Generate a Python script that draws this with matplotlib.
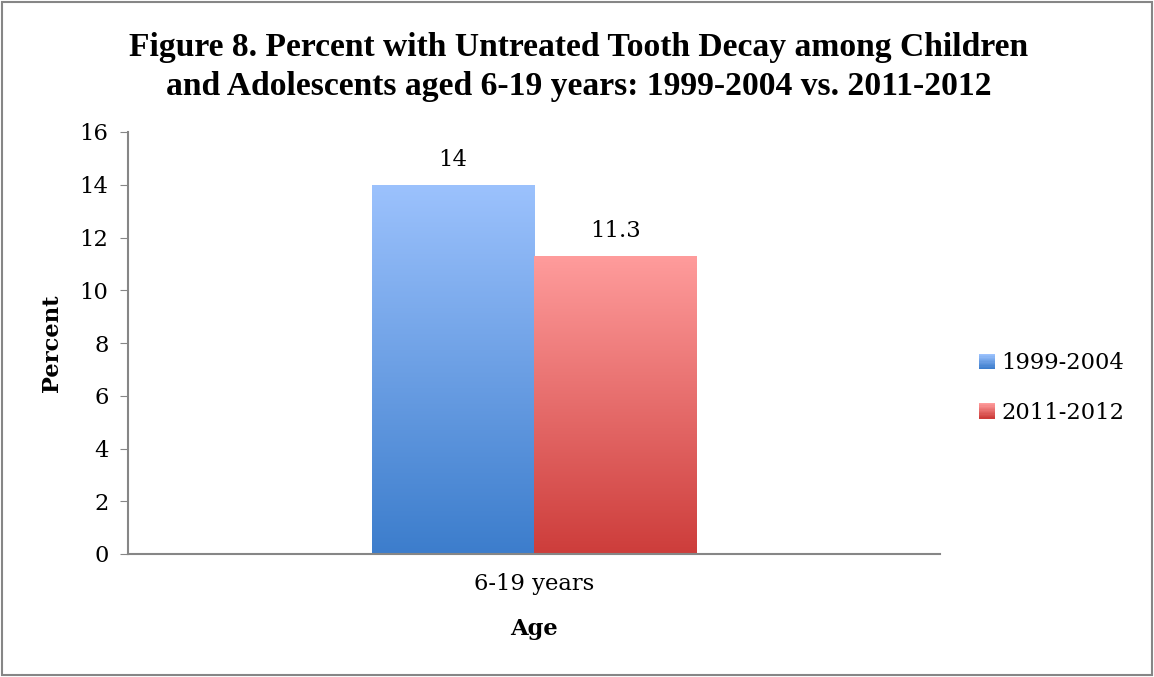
import numpy as np
import matplotlib
matplotlib.use("Agg")
import matplotlib.pyplot as plt
from matplotlib.colors import LinearSegmentedColormap
from matplotlib.patches import Rectangle
from matplotlib.legend_handler import HandlerBase

# data
categories = ["6-19 years"]
series = ["1999-2004", "2011-2012"]
values_1999_2004 = [14]
values_2011_2012 = [11.3]
labels_1999_2004 = ["14"]
labels_2011_2012 = ["11.3"]

# gradient top/bottom colours for each series
grad_colors = {
    "1999-2004": ("#9cc2fd", "#3c7dcc"),
    "2011-2012": ("#ff9c9c", "#cd3d3b"),
}

plt.rcParams['font.family'] = ['DejaVu Serif']
FS = 16.3

fig = plt.figure(figsize=(11.54, 6.77), dpi=100)
ax = fig.add_axes([128 / 1154, 1 - 554 / 677, (940 - 128) / 1154, (554 - 132) / 677])

x = np.arange(len(categories))
w = 0.2


def gradient_bar(ax, xpos, vals, name):
    bars = ax.bar(xpos, vals, width=w, facecolor="none", edgecolor="none", zorder=2)
    top, bot = grad_colors[name]
    cmap = LinearSegmentedColormap.from_list(name, [bot, top])
    grad = np.linspace(0, 1, 256).reshape(-1, 1)
    for b in bars:
        x0, y0 = b.get_x(), b.get_y()
        im = ax.imshow(grad, cmap=cmap, aspect="auto", origin="lower",
                       extent=[x0, x0 + b.get_width(), y0, y0 + b.get_height()],
                       zorder=2)
        im.set_clip_path(b)
    return bars


bars1 = gradient_bar(ax, x - w / 2, values_1999_2004, "1999-2004")
bars2 = gradient_bar(ax, x + w / 2, values_2011_2012, "2011-2012")

for bars, labs in [(bars1, labels_1999_2004), (bars2, labels_2011_2012)]:
    for b, t in zip(bars, labs):
        ax.annotate(t, (b.get_x() + b.get_width() / 2, b.get_height()),
                    xytext=(0, 10), textcoords="offset points",
                    ha="center", va="bottom", fontsize=FS)

ax.set_xlim(-0.5, 0.5)
ax.set_ylim(0, 16)
ax.set_yticks(range(0, 17, 2))
ax.set_xticks(x)
ax.set_xticklabels(categories, fontsize=FS)
ax.tick_params(axis="y", labelsize=FS, length=6, color="#868686", pad=8)
ax.tick_params(axis="x", length=0, pad=14)
for s in ["top", "right"]:
    ax.spines[s].set_visible(False)
for s in ["left", "bottom"]:
    ax.spines[s].set_color("#868686")
    ax.spines[s].set_linewidth(1.5)

ax.set_ylabel("Percent", fontsize=FS, fontweight="bold", labelpad=12)
ax.set_xlabel("Age", fontsize=FS, fontweight="bold", labelpad=16)

fig.suptitle("Figure 8. Percent with Untreated Tooth Decay among Children\n"
             "and Adolescents aged 6-19 years: 1999-2004 vs. 2011-2012",
             x=579 / 1154, y=1 - 67 / 677, va="center", fontsize=24.2,
             fontweight="bold", linespacing=1.3, family="Liberation Serif")


class GradHandler(HandlerBase):
    def __init__(self, name):
        super().__init__()
        self.name = name

    def create_artists(self, legend, orig_handle, xdescent, ydescent,
                       width, height, fontsize, trans):
        top, bot = grad_colors[self.name]
        cmap = LinearSegmentedColormap.from_list(self.name, [bot, top])
        n = 12
        arts = []
        side = height * 1.0
        x0 = -xdescent + width - side
        for i in range(n):
            arts.append(Rectangle((x0, -ydescent + side * i / n), side, side / n + 0.05,
                                  facecolor=cmap(i / (n - 1)), edgecolor="none",
                                  transform=trans))
        return arts


handles = [Rectangle((0, 0), 1, 1), Rectangle((0, 0), 1, 1)]
ax.legend(handles, series, handler_map={handles[0]: GradHandler("1999-2004"),
                                        handles[1]: GradHandler("2011-2012")},
          loc="center left", bbox_to_anchor=(963 / 1154, 1 - 388 / 677),
          bbox_transform=fig.transFigure, frameon=False, fontsize=FS,
          handlelength=1.0, handletextpad=0.3, labelspacing=1.2, borderaxespad=0)

# outer border
fig.patches.append(Rectangle((0.002, 0.003), 0.996, 0.994, transform=fig.transFigure,
                             fill=False, edgecolor="#868686", linewidth=1.5))

fig.savefig("out.png", dpi=100)
